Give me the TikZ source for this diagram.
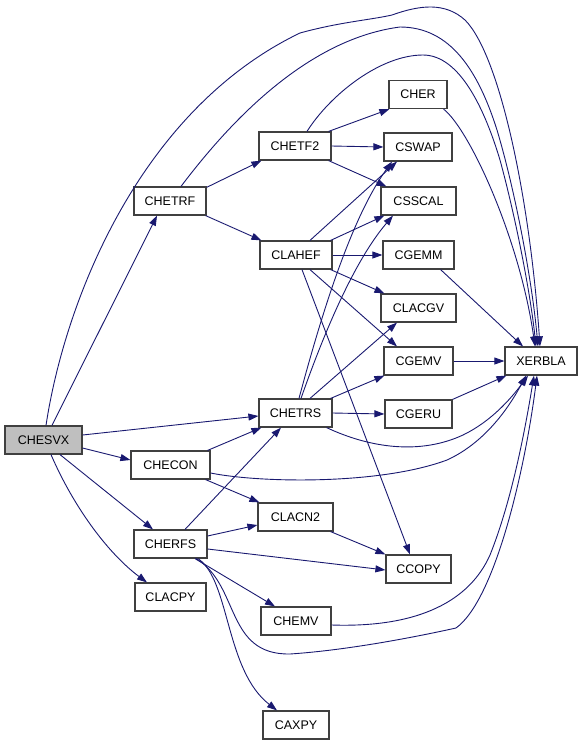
\documentclass[tikz,border=0pt]{standalone}
\usepackage{fontspec}
\setmainfont{Liberation Sans}
\usetikzlibrary{arrows.meta}
\definecolor{edgeblue}{HTML}{191970}
\definecolor{boxline}{HTML}{404040}
\definecolor{rootfill}{HTML}{BFBFBF}
\begin{document}
\begin{tikzpicture}[x=1pt,y=-1pt,
  box/.style={draw=boxline, line width=1.2pt, fill=white, rectangle, minimum height=28pt, inner sep=0pt, font=\fontsize{12.5}{14}\selectfont},
  root/.style={box, fill=rootfill},
  edge/.style={draw=edgeblue, line width=0.9pt, -{Triangle[length=10pt,width=7pt]}}]
\useasboundingbox (0,0) rectangle (584,745);
% nodes
\node[root, minimum width=77] (CHESVX) at (43.5,440) {CHESVX};
\node[box, minimum width=72] (CHETRF) at (170,201) {CHETRF};
\node[box, minimum width=72] (CHETF2) at (295,146) {CHETF2};
\node[box, minimum width=58] (CHER) at (418,94.5) {CHER};
\node[box, minimum width=68] (CSWAP) at (418,147) {CSWAP};
\node[box, minimum width=75] (CSSCAL) at (418.5,201) {CSSCAL};
\node[box, minimum width=72] (CLAHEF) at (296,255) {CLAHEF};
\node[box, minimum width=71] (CGEMM) at (418.5,255) {CGEMM};
\node[box, minimum width=75] (CLACGV) at (418.5,308) {CLACGV};
\node[box, minimum width=69] (CGEMV) at (418.5,361) {CGEMV};
\node[box, minimum width=72] (XERBLA) at (541,361) {XERBLA};
\node[box, minimum width=73] (CHETRS) at (295.5,413) {CHETRS};
\node[box, minimum width=67] (CGERU) at (418.5,414) {CGERU};
\node[box, minimum width=79] (CHECON) at (170.5,465) {CHECON};
\node[box, minimum width=73] (CHERFS) at (170.5,544) {CHERFS};
\node[box, minimum width=71] (CLACPY) at (170.5,597) {CLACPY};
\node[box, minimum width=75] (CLACN2) at (295.5,517) {CLACN2};
\node[box, minimum width=65] (CCOPY) at (418.5,569) {CCOPY};
\node[box, minimum width=70] (CHEMV) at (296,621) {CHEMV};
\node[box, minimum width=66] (CAXPY) at (296,725) {CAXPY};
% edges from CHESVX
\draw[edge] ([xshift=8.5]CHESVX.north) -- ([xshift=-13]CHETRF.south);
\draw[edge] ([yshift=5]CHESVX.east) -- ([yshift=-3]CHETRS.west);
\draw[edge] ([yshift=-8]CHESVX.east) -- ([yshift=5]CHECON.west);
\draw[edge] ([xshift=16.5]CHESVX.south) -- ([xshift=-17.5]CHERFS.north);
\draw[edge] ([xshift=7.5]CHESVX.south) .. controls (75,510) and (110,555) .. ([xshift=-23.5]CLACPY.north);
\draw[edge] ([xshift=2.5]CHESVX.north) .. controls (65,300) and (140,110) .. (300,33)
  .. controls (340,22) and (370,20) .. (392,15)
  .. controls (420,5) and (445,2) .. (465,20)
  .. controls (500,55) and (530,200) .. ([xshift=-1]XERBLA.north);
% CHETRF
\draw[edge] ([yshift=-1]CHETRF.north east) -- ([xshift=3]CHETF2.south west);
\draw[edge] ([xshift=-1]CHETRF.south east) -- ([xshift=2]CLAHEF.north west);
\draw[edge] ([xshift=11]CHETRF.north) .. controls (220,135) and (300,40) .. (400,27)
  .. controls (450,27) and (478,70) .. (497,130)
  .. controls (515,190) and (532,280) .. ([xshift=-3]XERBLA.north);
% CHETF2
\draw[edge] ([xshift=-3]CHETF2.north east) -- ([xshift=1]CHER.south west);
\draw[edge] (CHETF2.east) -- (CSWAP.west);
\draw[edge] ([xshift=-3]CHETF2.south east) -- ([xshift=6]CSSCAL.north west);
\draw[edge] ([xshift=12]CHETF2.north) .. controls (330,95) and (380,55) .. (423,55)
  .. controls (460,55) and (485,110) .. (500,160)
  .. controls (515,215) and (530,290) .. ([xshift=-5]XERBLA.north);
% CHER
\draw[edge] ([xshift=-4]CHER.south east) .. controls (470,130) and (520,240) .. ([xshift=-6]XERBLA.north);
% CLAHEF
\draw[edge] ([xshift=14]CLAHEF.north) -- ([xshift=-21]CSWAP.south);
\draw[edge] ([xshift=-2]CLAHEF.north east) -- ([xshift=4]CSSCAL.south west);
\draw[edge] (CLAHEF.east) -- (CGEMM.west);
\draw[edge] ([xshift=-2]CLAHEF.south east) -- ([xshift=4]CLACGV.north west);
\draw[edge] ([xshift=14]CLAHEF.south) -- ([xshift=-21.5]CGEMV.north);
\draw[edge] ([xshift=6]CLAHEF.south) -- ([xshift=-8.5]CCOPY.north);
% CHETRS
\draw[edge] ([xshift=3.5]CHETRS.north) .. controls (320,320) and (350,220) .. ([xshift=-26]CSWAP.south);
\draw[edge] ([xshift=5.5]CHETRS.north) .. controls (325,330) and (355,260) .. ([xshift=-25.5]CSSCAL.south);
\draw[edge] ([xshift=14.5]CHETRS.north) -- ([xshift=-21.5]CLACGV.south);
\draw[edge] ([xshift=-2]CHETRS.north east) -- ([xshift=1]CGEMV.south west);
\draw[edge] (CHETRS.east) -- (CGERU.west);
\draw[edge] ([xshift=-6]CHETRS.south east) .. controls (370,448) and (420,455) .. (463,435)
  .. controls (490,422) and (510,400) .. ([xshift=-13]XERBLA.south);
% right column to XERBLA
\draw[edge] (CGEMV.east) -- (XERBLA.west);
\draw[edge] (CGERU.north east) -- ([xshift=2]XERBLA.south west);
\draw[edge] ([xshift=-14]CGEMM.south east) -- ([xshift=-18]XERBLA.north);
% CHECON
\draw[edge] ([xshift=-3]CHECON.north east) -- ([xshift=3]CHETRS.south west);
\draw[edge] ([xshift=-5]CHECON.south east) -- ([xshift=2]CLACN2.north west);
\draw[edge] ([yshift=-8]CHECON.east) .. controls (260,483) and (380,485) .. (447,460)
  .. controls (480,445) and (505,415) .. ([xshift=-15]XERBLA.south);
% CHERFS
\draw[edge] ([xshift=14.5]CHERFS.north) -- ([xshift=-14.5]CHETRS.south);
\draw[edge] ([yshift=8]CHERFS.east) -- ([yshift=-8]CLACN2.west);
\draw[edge] ([yshift=-5]CHERFS.east) -- ([yshift=-1]CCOPY.west);
\draw[edge] ([xshift=24.5]CHERFS.south) -- ([xshift=-21]CHEMV.north);
\draw[edge] ([xshift=27.5]CHERFS.south) .. controls (230,580) and (225,670) .. ([xshift=-19]CAXPY.north);
\draw[edge] ([xshift=25.5]CHERFS.south) .. controls (240,585) and (225,655) .. (290,654)
  .. controls (350,650) and (420,636) .. (456,628)
  .. controls (495,600) and (525,470) .. ([xshift=-4]XERBLA.south);
% others
\draw[edge] ([xshift=-3]CLACN2.south east) -- (CCOPY.north west);
\draw[edge] ([yshift=-4]CHEMV.east) .. controls (420,628) and (470,600) .. (490,555)
  .. controls (512,500) and (525,430) .. ([xshift=-7]XERBLA.south);
\end{tikzpicture}
\end{document}
